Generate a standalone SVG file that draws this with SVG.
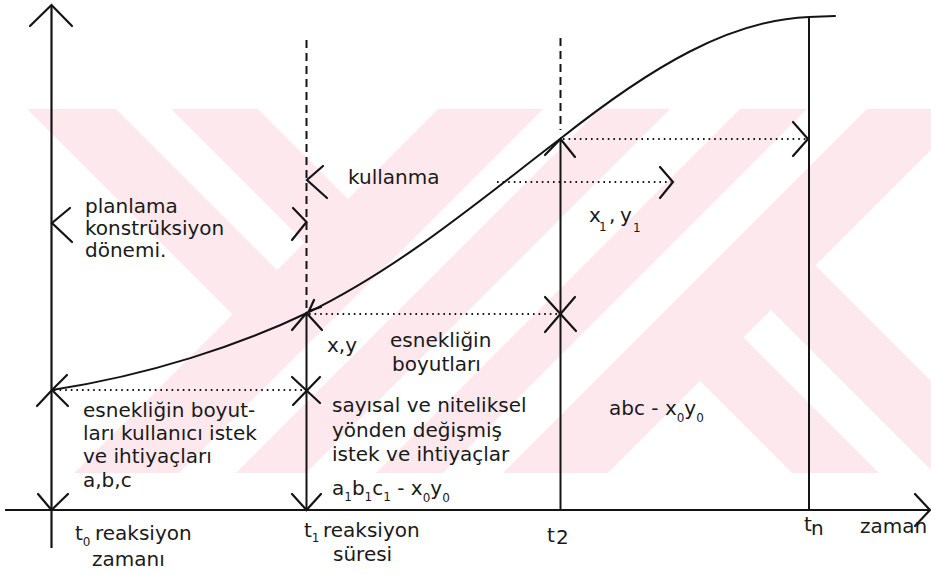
<svg xmlns="http://www.w3.org/2000/svg" width="931" height="575" viewBox="0 0 931 575">
<defs>
<style>
.wm{fill:#fde9ed;stroke:none}
.ln{stroke:#141414;stroke-width:2;fill:none;stroke-linecap:round}
.ax{stroke:#141414;stroke-width:2.2;fill:none}
.dash{stroke:#141414;stroke-width:2;fill:none;stroke-dasharray:8 5}
.dot{stroke:#141414;stroke-width:2;fill:none;stroke-dasharray:1.6 4}
.ah{stroke:#141414;stroke-width:2.2;fill:none;stroke-linecap:round;stroke-linejoin:miter}
text{font-family:"DejaVu Sans","Liberation Sans",sans-serif;font-size:20px;fill:#1a1a1a}
.sb{font-size:12px}
</style>
<clipPath id="band"><rect x="27" y="109" width="904" height="364"/></clipPath>
</defs>
<rect x="0" y="0" width="931" height="575" fill="#ffffff"/>
<g id="watermark" clip-path="url(#band)">
<polygon class="wm" points="447,100 552,100 172,480 67,480"/>
<polygon class="wm" points="609,100 679,100 299,480 229,480"/>
<polygon class="wm" points="749,100 816,100 436,480 369,480"/>
<polygon class="wm" points="876,100 981,100 601,480 496,480"/>
<polygon class="wm" points="18,100 107,100 283.5,276.5 239,321"/>
<polygon class="wm" points="162,100 249,100 354.5,205.5 311,249"/>
<polygon class="wm" points="886,480 799,480 693.5,374.5 737,331"/>
<polygon class="wm" points="1030,480 941,480 764.5,303.5 809,259"/>
</g>
<g id="connectors">
<path id="curve" class="ln" stroke-width="2.3" d="M52,390 C150,375 240,345 307,313 C400,268 480,200 560,139 C652,66 730,20 809,17 L835,16"/>
<line class="ax" x1="51.5" y1="5" x2="51.5" y2="548"/>
<line class="ax" x1="5" y1="510" x2="930" y2="510"/>
<line class="dash" x1="306.5" y1="40" x2="306.5" y2="312"/>
<line class="ln" x1="306.5" y1="313" x2="306.5" y2="510"/>
<line class="dash" x1="560.5" y1="38" x2="560.5" y2="130"/>
<line class="ln" x1="560.5" y1="139" x2="560.5" y2="510"/>
<line class="ln" x1="809" y1="17" x2="809" y2="510"/>
<line class="dot" x1="54" y1="390" x2="304" y2="390"/>
<line class="dot" x1="309" y1="314" x2="558" y2="314"/>
<line class="dot" x1="563" y1="139" x2="806" y2="139"/>
<line class="dot" x1="497" y1="182" x2="671" y2="182"/>
<path class="ah" d="M30,26 L51.5,5 L72,26"/>
<path class="ah" d="M915,494 L930,510 L915,526"/>
<path class="ah" d="M38,494 L51.5,510 L68,494"/>
<path class="ah" d="M37,406 L52,390 L68,406 M52,390 L67,375"/>
<path class="ah" d="M70,208 L52,223 L72,242"/>
<path class="ah" d="M293,208 L306.5,222 L292,240"/>
<path class="ah" d="M323,166 L307,180 L327,198"/>
<path class="ah" d="M292,330 L306.5,313 L322,330"/>
<path class="ah" d="M292,377 L320,403 M320,377 L293,405"/>
<path class="ah" d="M292,494 L306.5,510 L321,494"/>
<path class="ah" d="M545,297 L576,331 M575,297 L545,332"/>
<path class="ah" d="M545,155 L560.5,139 L575,157"/>
<path class="ah" d="M793,122 L808,139 L793,156"/>
<path class="ah" d="M660,167 L673,182 L660,198"/>
<path class="ah" stroke-width="1.6" d="M314,300 L309,311 L321,307"/>
</g>
<g id="n-planlama">
<text x="85" y="213">planlama</text>
<text x="85" y="235">konstrüksiyon</text>
<text x="85" y="257">dönemi.</text>
</g>
<g id="n-kullanma"><text x="348" y="184">kullanma</text></g>
<g id="n-x1y1">
<text x="589" y="222">x</text><text class="sb" x="599" y="231">1</text><text x="609" y="222">,</text><text x="620" y="222">y</text><text class="sb" x="633" y="232">1</text>
</g>
<g id="n-xy"><text x="327" y="352">x,y</text></g>
<g id="n-esneklik">
<text x="390" y="347">esnekliğin</text>
<text x="392" y="371">boyutları</text>
</g>
<g id="n-sayisal">
<text x="332" y="412">sayısal ve niteliksel</text>
<text x="332" y="437">yönden değişmiş</text>
<text x="332" y="461">istek ve ihtiyaçlar</text>
<text x="332" y="495">a<tspan class="sb" dy="6">1</tspan><tspan dy="-6">b</tspan><tspan class="sb" dy="6">1</tspan><tspan dy="-6">c</tspan><tspan class="sb" dy="6">1</tspan><tspan dy="-6"> - x</tspan><tspan class="sb" dy="7">0</tspan><tspan dy="-7">y</tspan><tspan class="sb" dy="7">0</tspan></text>
</g>
<g id="n-abc">
<text x="609" y="415">abc - x<tspan class="sb" dy="7">0</tspan><tspan dy="-7">y</tspan><tspan class="sb" dy="7">0</tspan></text>
</g>
<g id="n-left">
<text x="83" y="417">esnekliğin boyut-</text>
<text x="83" y="440">ları kullanıcı istek</text>
<text x="83" y="463">ve ihtiyaçları</text>
<text x="83" y="487">a,b,c</text>
</g>
<g id="n-t0">
<text x="75" y="540">t<tspan class="sb" dy="6">0</tspan></text>
<text x="95" y="540">reaksiyon</text>
<text x="92" y="566">zamanı</text>
</g>
<g id="n-t1">
<text x="304" y="537">t<tspan class="sb" dy="5">1</tspan></text>
<text x="323" y="537">reaksiyon</text>
<text x="333" y="561">süresi</text>
</g>
<g id="n-t2"><text x="547" y="542" font-size="18">t</text><text x="556" y="544" font-size="15">2</text></g>
<g id="n-tn"><text x="804" y="531" font-size="16">t</text><text x="811" y="535" font-size="16">n</text></g>
<g id="n-zaman"><text x="860" y="533">zaman</text></g>
</svg>
